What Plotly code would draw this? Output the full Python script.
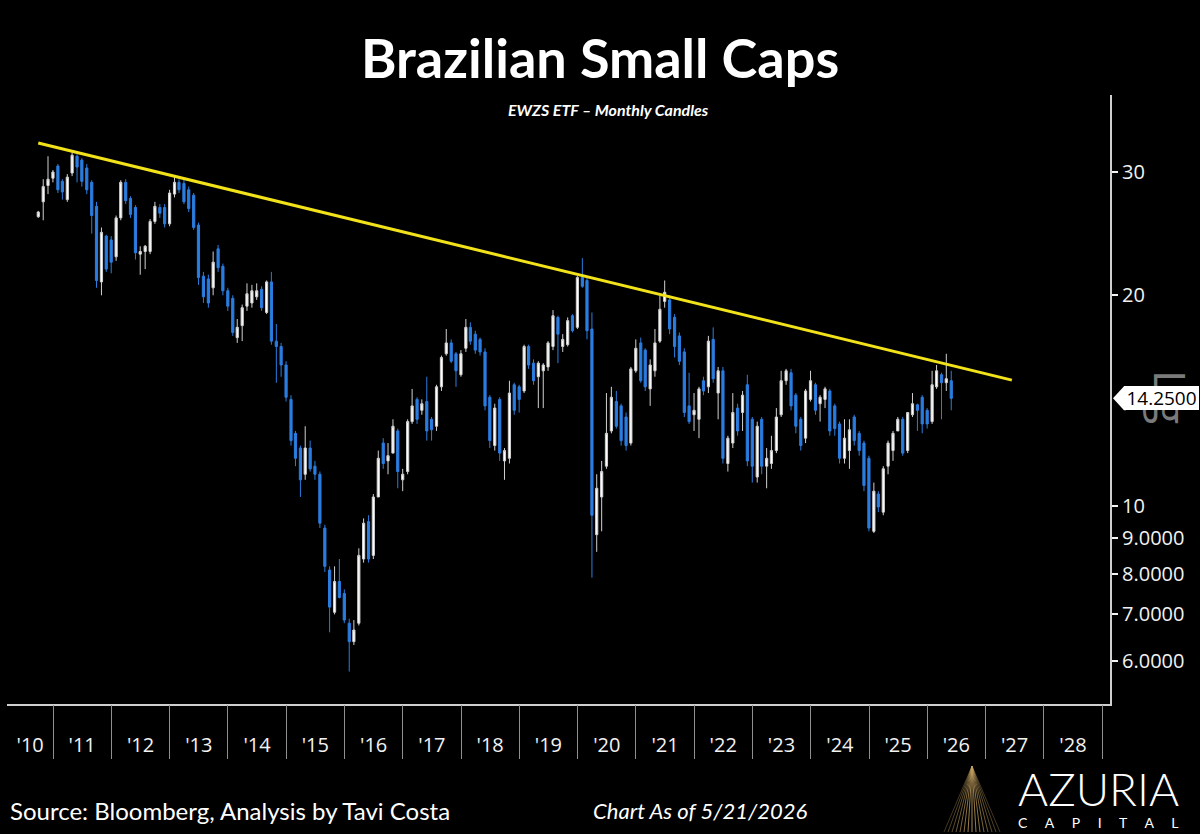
import math
import pandas as pd
import plotly.graph_objects as go

# ---------------- data (EWZS monthly candles) ----------------
start_month = "2010-09-01"
opens = [25.9, 27.2, 28.7, 29.4, 30.6, 29.1, 27.4, 29.9, 31.6, 31.2, 30.4, 29.0, 26.8, 20.9, 24.3, 24.0,
         22.7, 25.8, 29.0, 27.5, 26.7, 22.9, 23.1, 23.1, 25.5, 26.7, 26.7, 25.3, 27.9, 29.0, 28.9, 28.3,
         27.8, 25.2, 21.3, 21.1, 20.5, 23.3, 22.0, 20.3, 19.8, 17.4, 18.1, 19.3, 19.5, 19.9, 20.4, 18.9,
         20.9, 17.2, 16.9, 15.9, 14.2, 12.7, 12.1, 11.1, 12.1, 11.4, 11.1, 9.3, 8.1, 7.05, 7.8, 7.5,
         6.8, 6.4, 6.8, 8.4, 9.5, 8.5, 10.3, 12.3, 11.6, 11.9, 12.8, 10.9, 11.2, 13.2, 14.2, 13.7,
         14.1, 13.3, 13.0, 14.8, 16.5, 17.1, 16.5, 15.4, 16.8, 18.0, 17.6, 17.3, 16.6, 14.3, 12.2, 14.2,
         11.6, 11.7, 14.9, 14.8, 14.6, 16.9, 16.0, 15.3, 15.6, 15.8, 16.9, 18.6, 16.9, 17.0, 18.7, 18.0,
         21.2, 21.0, 17.9, 9.1, 10.3, 11.4, 12.8, 14.1, 13.9, 13.4, 12.3, 15.6, 17.1, 16.7, 14.7, 15.6,
         17.2, 19.6, 19.7, 18.6, 17.5, 16.6, 13.9, 13.5, 13.3, 15.1, 14.8, 17.3, 14.5, 15.6, 11.5, 12.3,
         13.8, 13.6, 14.9, 13.3, 11.0, 13.3, 11.4, 11.5, 12.0, 13.5, 15.1, 15.5, 14.4, 13.3, 12.5, 14.2,
         14.9, 14.0, 14.2, 14.6, 13.9, 13.1, 11.7, 12.0, 13.4, 12.7, 12.3, 11.7, 9.2, 10.4, 9.8, 11.4,
         12.0, 12.8, 13.3, 12.0, 13.5, 13.95, 14.3, 13.7, 13.2, 14.8, 15.4, 15.0, 15.1]
highs = [26.4, 29.3, 31.6, 30.2, 30.8, 29.3, 29.8, 32.0, 31.8, 31.4, 30.8, 29.2, 27.2, 25.0, 24.4, 24.3,
         26.0, 29.2, 29.3, 27.7, 26.9, 23.5, 23.6, 25.7, 27.2, 27.0, 27.0, 28.3, 29.6, 29.3, 29.3, 28.6,
         28.0, 25.4, 21.6, 21.4, 23.1, 23.6, 22.2, 20.5, 20.0, 18.5, 19.4, 20.8, 20.7, 20.8, 20.6, 21.0,
         21.6, 18.2, 17.1, 16.1, 14.4, 12.8, 12.2, 13.0, 12.4, 11.6, 11.2, 9.4, 8.2, 8.2, 8.4, 7.6,
         6.9, 6.87, 8.7, 9.6, 9.7, 10.4, 12.0, 12.5, 12.3, 13.3, 12.9, 11.3, 13.3, 14.7, 14.3, 14.2,
         15.3, 13.4, 14.9, 16.4, 17.9, 17.3, 16.6, 16.7, 18.5, 18.3, 17.8, 17.4, 16.8, 14.4, 14.0, 14.3,
         12.1, 15.1, 15.0, 14.9, 17.0, 17.0, 16.2, 16.1, 16.0, 17.2, 19.05, 18.7, 17.6, 18.6, 18.8, 21.3,
         22.6, 21.2, 18.9, 11.1, 11.6, 14.5, 14.8, 14.6, 14.0, 13.6, 15.8, 17.3, 17.4, 16.8, 16.2, 17.9,
         20.0, 21.0, 20.0, 18.8, 17.7, 16.8, 15.5, 14.5, 14.8, 15.3, 17.5, 18.0, 15.8, 15.8, 12.6, 14.5,
         14.0, 14.6, 15.4, 13.4, 13.2, 13.4, 12.1, 12.6, 13.8, 15.6, 15.7, 15.7, 14.5, 13.4, 14.7, 15.6,
         15.0, 14.4, 14.8, 14.7, 14.0, 13.2, 13.3, 13.3, 13.5, 12.8, 12.4, 11.8, 10.8, 10.5, 11.4, 12.4,
         12.8, 13.4, 13.4, 13.6, 14.5, 14.0, 14.4, 13.8, 15.6, 15.9, 15.5, 16.5, 15.6]
lows = [25.8, 25.6, 27.9, 29.0, 28.0, 27.4, 27.2, 29.6, 29.0, 28.6, 27.9, 24.5, 20.5, 20.0, 21.6, 21.5,
        22.4, 25.6, 27.0, 25.8, 22.5, 21.4, 21.8, 22.9, 25.3, 25.8, 25.0, 25.1, 27.6, 28.0, 27.0, 26.3,
        24.8, 20.7, 19.5, 19.2, 20.0, 21.6, 20.0, 19.0, 17.5, 17.1, 17.2, 19.0, 19.2, 19.7, 19.0, 18.8,
        17.0, 15.0, 15.3, 14.1, 12.2, 11.4, 10.3, 10.9, 11.2, 10.9, 9.3, 8.05, 6.6, 7.0, 7.38, 6.8,
        5.8, 6.33, 6.75, 8.3, 8.3, 8.4, 10.3, 11.3, 11.1, 11.9, 10.6, 10.5, 11.1, 13.1, 13.1, 13.5,
        12.4, 12.4, 12.8, 14.6, 16.4, 16.0, 14.8, 15.3, 16.6, 17.0, 16.5, 16.4, 13.7, 12.1, 12.0, 11.6,
        10.9, 11.5, 13.5, 13.6, 14.5, 15.7, 14.9, 13.8, 13.8, 15.6, 16.7, 16.0, 16.6, 16.9, 17.7, 17.9,
        20.5, 17.3, 7.9, 8.6, 9.2, 11.3, 12.7, 12.9, 12.2, 12.0, 12.2, 15.5, 15.0, 14.6, 13.9, 15.3,
        17.1, 19.2, 17.6, 16.3, 15.9, 13.4, 13.1, 12.8, 12.5, 14.4, 14.5, 15.0, 13.3, 11.5, 11.2, 12.1,
        12.6, 12.8, 11.4, 10.8, 10.8, 11.1, 10.6, 11.3, 11.9, 13.4, 14.9, 13.7, 12.7, 12.0, 12.3, 14.1,
        13.5, 13.2, 13.8, 12.6, 12.6, 11.5, 11.5, 11.3, 12.2, 11.8, 10.5, 9.2, 9.15, 9.8, 9.7, 11.1,
        11.6, 12.8, 11.8, 11.9, 13.4, 12.8, 12.7, 12.9, 13.1, 14.7, 13.3, 14.6, 13.7]
closes = [26.3, 28.6, 29.3, 30.0, 28.3, 28.1, 29.5, 31.7, 30.5, 29.1, 28.3, 26.0, 21.0, 24.6, 21.8, 22.3,
          25.8, 29.0, 27.3, 26.1, 23.0, 23.1, 23.5, 25.5, 26.8, 26.2, 25.3, 28.0, 29.0, 28.3, 27.2, 26.6,
          25.0, 21.2, 19.9, 19.5, 22.3, 21.9, 20.3, 19.3, 17.7, 18.0, 19.2, 20.1, 20.3, 20.3, 19.2, 20.9,
          17.2, 16.9, 15.9, 14.3, 12.4, 11.7, 10.9, 12.1, 11.3, 11.1, 9.45, 8.2, 7.17, 7.8, 7.4, 6.87,
          6.4, 6.65, 8.5, 9.45, 8.4, 10.3, 11.7, 11.5, 11.8, 13.0, 11.2, 11.1, 13.2, 13.9, 13.3, 14.0,
          12.8, 12.85, 14.8, 16.3, 17.1, 16.1, 15.6, 16.5, 18.0, 17.2, 16.7, 16.6, 13.9, 12.4, 13.8, 11.9,
          12.0, 14.5, 13.7, 14.2, 16.9, 15.9, 15.1, 16.0, 15.9, 17.1, 18.7, 17.6, 17.3, 18.4, 17.8, 21.2,
          20.6, 17.8, 9.7, 10.6, 11.2, 12.7, 14.3, 13.0, 12.4, 12.2, 15.7, 16.8, 15.1, 14.8, 15.9, 17.1,
          19.1, 20.2, 17.9, 16.9, 16.1, 13.6, 13.2, 13.7, 14.7, 14.6, 17.2, 15.2, 15.6, 11.7, 12.5, 13.6,
          12.8, 14.4, 11.6, 11.4, 13.0, 11.4, 11.7, 12.0, 13.4, 15.1, 15.6, 13.9, 13.0, 12.2, 14.6, 15.1,
          13.7, 14.3, 14.7, 12.8, 12.9, 11.7, 12.5, 12.85, 12.4, 12.0, 10.7, 9.3, 10.5, 9.97, 11.3, 12.3,
          12.7, 13.3, 11.9, 13.6, 14.0, 13.7, 13.1, 13.1, 14.9, 15.6, 15.0, 15.2, 14.25]

trend_dates = ["2010-09-30", "2027-06-15"]
trend_values = [33.0, 15.13]

year_label_dates = ["2010-08-10"] + [f"{y}-07-02" for y in range(2011, 2029)]
year_labels = ["'10", "'11", "'12", "'13", "'14", "'15", "'16", "'17", "'18", "'19",
               "'20", "'21", "'22", "'23", "'24", "'25", "'26", "'27", "'28"]
year_start_dates = [f"{y}-01-01" for y in range(2011, 2030)]

y_tick_values = [6, 7, 8, 9, 10, 20, 30]
y_tick_text = ["6.0000", "7.0000", "8.0000", "9.0000", "10", "20", "30"]
last_price = 14.25

# ---------------- figure ----------------
dates = pd.date_range(start_month, periods=len(opens), freq="MS") + pd.offsets.MonthEnd(0)

BLUE = "#2b7de0"
X_RANGE = ["2010-03-18", "2029-02-19"]
Y_RANGE = [0.7171, 1.5872]

fig = go.Figure()
fig.add_trace(go.Candlestick(
    x=dates, open=opens, high=highs, low=lows, close=closes,
    increasing=dict(line=dict(color="#d0d0d0", width=1), fillcolor="#ffffff"),
    decreasing=dict(line=dict(color=BLUE, width=1), fillcolor=BLUE),
    whiskerwidth=0, hoverinfo="skip", showlegend=False,
))
fig.add_trace(go.Scatter(
    x=trend_dates, y=trend_values, mode="lines", xaxis="x2", yaxis="y",
    line=dict(color="#f2e21a", width=3), hoverinfo="skip", showlegend=False,
))

tick_font = dict(family="Open Sans", size=20, color="#f2f2f2")

fig.update_layout(
    width=1200, height=834,
    margin=dict(l=7, r=90, t=95, b=130),
    paper_bgcolor="black", plot_bgcolor="black",
    showlegend=False,
    xaxis=dict(
        type="date", range=X_RANGE, rangeslider=dict(visible=False),
        tickmode="array", tickvals=year_label_dates, ticktext=year_labels,
        ticks="outside", ticklen=22, tickcolor="rgba(0,0,0,0)",
        tickfont=tick_font, showgrid=False, zeroline=False,
        showline=True, linecolor="#cfcfcf", linewidth=2,
    ),
    xaxis2=dict(
        type="date", range=X_RANGE, overlaying="x", anchor="y", side="bottom",
        tickmode="array", tickvals=year_start_dates, showticklabels=False,
        ticks="outside", ticklen=54, tickcolor="#8f8f8f", tickwidth=1,
        showgrid=False, zeroline=False, showline=False,
    ),
    yaxis=dict(
        type="log", range=Y_RANGE, side="right",
        tickmode="array", tickvals=y_tick_values, ticktext=y_tick_text,
        ticks="outside", ticklen=6, tickcolor="#f2f2f2", tickwidth=2,
        tickfont=dict(family="Open Sans", size=20, color="#f2f2f2"),
        showgrid=False, zeroline=False,
        showline=True, linecolor="#cfcfcf", linewidth=2,
    ),
)

def px_x(px):
    return (px - 7) / 1103.0

def px_y(py):
    return (704 - py) / 609.0

# title & subtitle
fig.add_annotation(text="<b>Brazilian Small Caps</b>", xref="paper", yref="paper",
                   x=px_x(600), y=px_y(58), xanchor="center", yanchor="middle",
                   showarrow=False, font=dict(family="Lato", size=54, color="white"))
fig.add_annotation(text="<b><i>EWZS ETF – Monthly Candles</i></b>", xref="paper", yref="paper",
                   x=px_x(608), y=px_y(110), xanchor="center", yanchor="middle",
                   showarrow=False, font=dict(family="Lato", size=16, color="white"))

# footer
fig.add_annotation(text="Source: Bloomberg, Analysis by Tavi Costa", xref="paper", yref="paper",
                   x=px_x(8), y=px_y(810), xanchor="left", yanchor="middle",
                   showarrow=False, font=dict(family="Lato", size=24, color="white"))
fig.add_annotation(text="<i>Chart As of 5/21/2026</i>", xref="paper", yref="paper",
                   x=px_x(700), y=px_y(810), xanchor="center", yanchor="middle",
                   showarrow=False, font=dict(family="Lato", size=22, color="white"))
fig.add_annotation(text="AZURIA", xref="paper", yref="paper",
                   x=px_x(1098), y=px_y(788), xanchor="center", yanchor="middle",
                   showarrow=False, font=dict(family="Lato", size=46, color="white", weight=300))
gap = "\u00a0" * 5
fig.add_annotation(text=gap.join("CAPITAL"), xref="paper", yref="paper",
                   x=px_x(1098), y=px_y(822), xanchor="center", yanchor="middle",
                   showarrow=False, font=dict(family="Lato", size=14, color="white"))

# logo fan
apex = (972, 766)
for bx in range(944, 1002, 4):
    alpha = 0.3 + 0.55 * (1 - abs(bx - 972) / 30.0)
    fig.add_shape(type="line", xref="paper", yref="paper",
                  x0=px_x(apex[0]), y0=px_y(apex[1]), x1=px_x(bx), y1=px_y(832),
                  line=dict(color=f"rgba(196,160,96,{alpha:.2f})", width=1))

# "Lg" axis marker (drawn before the price tag so the tag covers it)
fig.add_annotation(text="L\u2009g", xref="paper", yref="paper",
                   x=px_x(1171), y=px_y(397), xanchor="center", yanchor="middle",
                   textangle=90, showarrow=False,
                   font=dict(family="Open Sans", size=44, color="#7a7a7a"))

# last price tag
yp_last = (math.log10(last_price) - Y_RANGE[0]) / (Y_RANGE[1] - Y_RANGE[0])
fig.add_shape(type="path", xref="paper", yref="paper",
              xsizemode="pixel", ysizemode="pixel", xanchor=1, yanchor=yp_last,
              path="M 3 0 L 14 12 L 16 12 L 16 -12 L 14 -12 Z",
              fillcolor="white", line=dict(width=0))
fig.add_annotation(text=f"{last_price:.4f}", xref="paper", yref="paper",
                   x=1, y=yp_last, xshift=14, xanchor="left", yanchor="middle",
                   width=75, height=24, bgcolor="white", borderpad=0, borderwidth=0,
                   align="center", showarrow=False,
                   font=dict(family="Open Sans", size=19, color="black"))

fig.write_html("out.html", config={"displayModeBar": False})
